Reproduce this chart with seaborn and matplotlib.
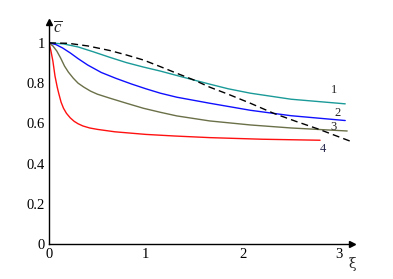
import numpy as np
import pandas as pd
import matplotlib
matplotlib.use("Agg")
import matplotlib.pyplot as plt
import seaborn as sns

# curve values
x1 = [0, 0.15, 0.3, 0.45, 0.63, 0.8, 0.975, 1.15, 1.32, 1.5, 1.66, 1.85, 2.08, 2.5, 3.06]
c1 = [1.0, 0.995, 0.98, 0.957, 0.928, 0.902, 0.88, 0.86, 0.838, 0.815, 0.795, 0.772, 0.75, 0.72, 0.697]

x2 = [0, 0.07, 0.14, 0.22, 0.3, 0.4, 0.54, 0.69, 0.85, 1.0, 1.15, 1.32, 1.66, 2.08, 2.5, 3.06]
c2 = [1.0, 0.992, 0.975, 0.95, 0.922, 0.89, 0.853, 0.824, 0.796, 0.772, 0.75, 0.73, 0.70, 0.665,
      0.638, 0.614]

x3 = [0, 0.04, 0.08, 0.12, 0.16, 0.2, 0.25, 0.3, 0.36, 0.43, 0.5, 0.63, 0.8, 0.975,
      1.15, 1.32, 1.66, 2.08, 2.5, 3.08]
c3 = [1.0, 0.985, 0.96, 0.925, 0.885, 0.855, 0.825, 0.80, 0.78, 0.76, 0.745, 0.725, 0.70, 0.675,
      0.655, 0.637, 0.612, 0.592, 0.577, 0.562]

x4 = [0, 0.02, 0.04, 0.062, 0.085, 0.1, 0.125, 0.15, 0.18, 0.22, 0.26, 0.3, 0.35, 0.42, 0.5,
      0.68, 1.0, 1.3, 1.66, 2.2, 2.8]
c4 = [1.0, 0.96, 0.91, 0.835, 0.78, 0.75, 0.705, 0.675, 0.65, 0.627, 0.61, 0.598, 0.587, 0.577,
      0.57, 0.558, 0.545, 0.537, 0.529, 0.521, 0.516]

x_dash = [0, 0.2, 0.4, 0.63, 0.8, 0.975, 1.15, 1.32, 1.5, 1.66, 1.85, 2.08, 2.32, 2.55, 2.78, 3.13]
c_dash = [1.0, 0.998, 0.985, 0.962, 0.94, 0.915, 0.882, 0.849, 0.815, 0.78, 0.745, 0.70, 0.65,
          0.61, 0.572, 0.508]

curve_labels = ["1", "2", "3", "4"]
label_x = [2.94, 2.98, 2.94, 2.83]
label_y = [0.766, 0.652, 0.582, 0.473]

x_ticks = [0, 1, 2, 3]
y_ticks = [0, 0.2, 0.4, 0.6, 0.8, 1]


def main():
    sns.set_style("white")
    plt.rcParams["font.family"] = ["Liberation Serif", "DejaVu Serif"]
    plt.rcParams["mathtext.fontset"] = "custom"
    plt.rcParams["mathtext.it"] = "Liberation Serif:italic"
    plt.rcParams["mathtext.rm"] = "Liberation Serif"

    fig = plt.figure(figsize=(3.93, 2.79), dpi=100)
    ax = fig.add_axes([49 / 393, 35 / 279, 303 / 393, 222 / 279])

    curves = [(x1, c1, "#1a9a98"), (x2, c2, "#1010ff"),
              (x3, c3, "#6b7048"), (x4, c4, "#ff1010")]
    for xs, cs, col in curves:
        df = pd.DataFrame({"xi": xs, "c": cs})
        sns.lineplot(data=df, x="xi", y="c", color=col, lw=1.0, ax=ax,
                     estimator=None, sort=False)

    df = pd.DataFrame({"xi": x_dash, "c": c_dash})
    sns.lineplot(data=df, x="xi", y="c", color="black", lw=1.0, ax=ax,
                 estimator=None, sort=False, linestyle=(0, (5, 3)))

    label_cols = ["#222222", "#222222", "#222222", "#2a2a50"]
    for t, lx, ly, lc in zip(curve_labels, label_x, label_y, label_cols):
        ax.text(lx, ly, t, fontsize=9, color=lc, ha="center", va="center")

    ax.set_xlim(0, 3.13)
    ax.set_ylim(0, 1.104)
    for s in ["top", "right"]:
        ax.spines[s].set_visible(False)
    for s in ["left", "bottom"]:
        ax.spines[s].set_color("black")
        ax.spines[s].set_linewidth(1.0)

    ax.set_xticks(x_ticks)
    ax.set_xticklabels([str(v) for v in x_ticks])
    ax.set_yticks(y_ticks)
    ax.set_yticklabels(["0", "0.2", "0.4", "0.6", "0.8", "1"])
    ax.set_xticks([0.5, 1.5, 2.5], minor=True)
    ax.set_yticks([0.1, 0.3, 0.5, 0.7, 0.9], minor=True)
    ax.tick_params(which="major", direction="inout", length=4, width=0.8,
                   labelsize=10.5, pad=1, colors="black")
    ax.tick_params(which="minor", direction="inout", length=2.5, width=0.8)
    ax.set_xlabel("")
    ax.set_ylabel("")

    # axis arrows
    ax.plot(1, 0, ">k", markersize=5, transform=ax.get_yaxis_transform(), clip_on=False)
    ax.plot(0, 1, "^k", markersize=5, transform=ax.get_xaxis_transform(), clip_on=False)

    ax.text(0.09, 1.075, r"$\overline{c}$", fontsize=12, ha="center", va="center")
    ax.text(3.13, -0.1, "ξ", fontsize=10, ha="center", va="center",
            family=["DejaVu Serif"])

    fig.savefig("out.png", dpi=100)


if __name__ == "__main__":
    main()
